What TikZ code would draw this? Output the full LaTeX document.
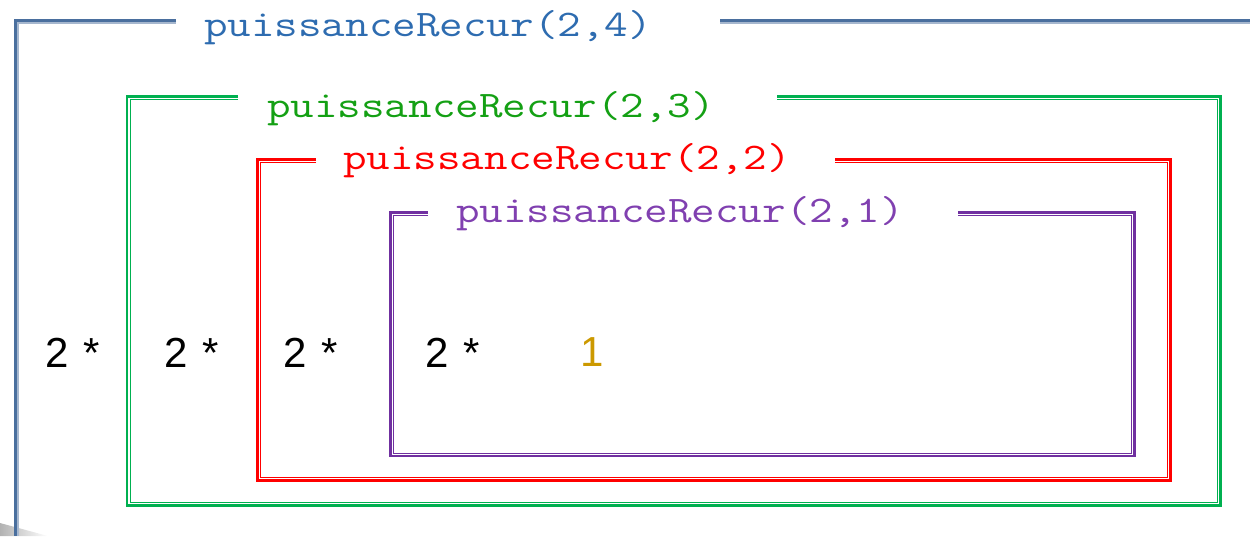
\documentclass[tikz,border=0pt]{standalone}
\usepackage{fontspec}
\newfontfamily\arialfont{Liberation Sans}
\usetikzlibrary{fadings}
\definecolor{blueline}{RGB}{74,111,158}
\definecolor{bluelight}{RGB}{166,183,206}
\definecolor{bluetext}{RGB}{46,108,176}
\definecolor{greenline}{RGB}{0,176,80}
\definecolor{greentext}{RGB}{20,160,20}
\definecolor{redline}{RGB}{255,0,0}
\definecolor{purpleline}{RGB}{112,48,160}
\definecolor{purpletext}{RGB}{128,64,176}
\definecolor{goldtext}{RGB}{204,153,0}
\newcommand\openframe[7]{%
  \draw[#1, line width=2.5pt, line join=miter] (#6,#3) -- (#2,#3) -- (#2,#5) -- (#4,#5) -- (#4,#3) -- (#7,#3);
  \draw[#1, line width=1pt, line join=miter] (#6,#3+3) -- (#2+3,#3+3) -- (#2+3,#5-3) -- (#4-3,#5-3) -- (#4-3,#3+3) -- (#7,#3+3);
}
\newcommand\codetext[1]{\scalebox{1.22}[1]{\ttfamily\fontsize{37.5}{37.5}\selectfont #1}}
\newcommand\twostar{2\hspace{14pt}*}
\tikzset{
  title/.style={anchor=base, inner sep=0pt},
  factor/.style={font=\arialfont\fontsize{42}{42}\selectfont, anchor=base west, inner sep=0pt}
}
\begin{document}
\begin{tikzpicture}[x=1pt,y=-1pt]
\useasboundingbox (0,0) rectangle (1250,536);
% shadow at bottom-left
\fill[black!30, path fading=east] (0,523) -- (48,536) -- (0,536) -- cycle;
% outer blue frame (open to right and bottom)
\draw[blueline, line width=2.5pt, line join=miter] (176,20.5) -- (15.5,20.5) -- (15.5,536);
\draw[bluelight, line width=2pt, line join=miter] (176,23) -- (18,23) -- (18,536);
\draw[blueline, line width=2.5pt] (720,20.5) -- (1250,20.5);
\draw[bluelight, line width=2pt] (720,23) -- (1250,23);
% nested frames
\openframe{greenline}{127}{96.5}{1220.5}{505.5}{238}{777}
\openframe{redline}{257.5}{159.5}{1170.5}{480.5}{316}{835}
\openframe{purpleline}{390.5}{212.5}{1134.5}{456}{428}{958}
% titles
\node[title, text=bluetext] (t4) at (428,36) {\codetext{puissanceRecur(2,4)}};
\node[title, text=greentext] (t3) at (491,117) {\codetext{puissanceRecur(2,3)}};
\node[title, text=redline] (t2) at (567,169) {\codetext{puissanceRecur(2,2)}};
\node[title, text=purpletext] (t1) at (680,222) {\codetext{puissanceRecur(2,1)}};
% factors
\node[factor] (f4) at (45.5,367) {\twostar};
\node[factor] (f3) at (164.5,367) {\twostar};
\node[factor] (f2) at (283.5,367) {\twostar};
\node[factor] (f1) at (425.5,367) {\twostar};
\node[factor, text=goldtext] (one) at (580,366) {1};
\end{tikzpicture}
\end{document}
